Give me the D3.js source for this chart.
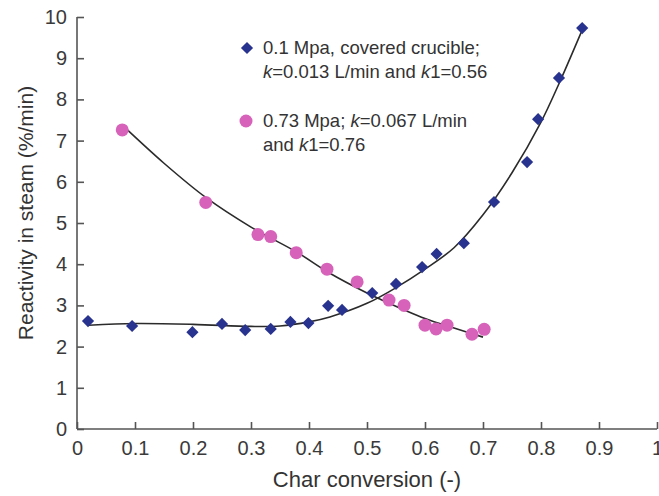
<!DOCTYPE html>
<html>
  <head>
    <meta charset="UTF-8">
    <title>Reactivity in steam</title>
    <script src="https://cdn.jsdelivr.net/npm/d3@7"></script>
    <style>
      body { margin: 0; background: #fff; }
      svg { font-family: "Liberation Sans", Arial, sans-serif; }
      .tick text { fill: #3a3a3a; }
    </style>
  </head>
  <body>
    <svg id="chart" width="659" height="496"></svg>
    <script>
      // 0.1 Mpa, covered crucible (blue diamonds)
      const blueX = [0.019, 0.095, 0.199, 0.25, 0.29, 0.334, 0.368, 0.399, 0.433, 0.457, 0.509, 0.55, 0.595, 0.62, 0.667, 0.719, 0.776, 0.795, 0.831, 0.871];
      const blueY = [2.62, 2.50, 2.35, 2.55, 2.40, 2.43, 2.60, 2.57, 2.99, 2.89, 3.30, 3.52, 3.93, 4.25, 4.51, 5.51, 6.48, 7.52, 8.52, 9.73];
      // fitted curve for blue series
      const blueFitX = [0.02, 0.1, 0.2, 0.3, 0.35, 0.4, 0.436, 0.5, 0.55, 0.6, 0.65, 0.7, 0.75, 0.8, 0.83, 0.87];
      const blueFitY = [2.52, 2.56, 2.54, 2.49, 2.50, 2.60, 2.72, 3.05, 3.43, 3.88, 4.40, 5.20, 6.22, 7.45, 8.35, 9.65];

      // 0.73 Mpa (pink circles)
      const pinkX = [0.078, 0.222, 0.312, 0.334, 0.378, 0.431, 0.483, 0.538, 0.564, 0.6, 0.619, 0.638, 0.681, 0.702];
      const pinkY = [7.26, 5.50, 4.72, 4.67, 4.28, 3.88, 3.57, 3.13, 3.00, 2.52, 2.43, 2.52, 2.30, 2.42];
      const pinkFitX = [0.08, 0.15, 0.222, 0.3, 0.378, 0.436, 0.5, 0.521, 0.6, 0.65, 0.7];
      const pinkFitY = [7.35, 6.45, 5.62, 4.90, 4.30, 3.78, 3.30, 3.16, 2.68, 2.45, 2.23];

      const xTicks = [0, 0.1, 0.2, 0.3, 0.4, 0.5, 0.6, 0.7, 0.8, 0.9, 1];
      const yTicks = [0, 1, 2, 3, 4, 5, 6, 7, 8, 9, 10];

      const blueColor = "#28338f";
      const pinkColor = "#d663b9";

      const svg = d3.select("#chart");
      const x = d3.scaleLinear().domain([0, 1]).range([77, 657]);
      const y = d3.scaleLinear().domain([0, 10]).range([429, 17]);

      const fmt = d => d === 0 || d === 1 ? String(d) : d3.format(".1f")(d);

      const xAxis = svg.append("g")
        .attr("transform", `translate(0,${y(0)})`)
        .call(d3.axisBottom(x).tickValues(xTicks).tickFormat(fmt).tickSizeInner(-7).tickSizeOuter(0).tickPadding(9));
      xAxis.selectAll("text").attr("font-size", 20).attr("dy", "0.85em");

      const yAxis = svg.append("g")
        .attr("transform", `translate(${x(0)},0)`)
        .call(d3.axisLeft(y).tickValues(yTicks).tickSizeInner(-7).tickSizeOuter(0).tickPadding(10));
      yAxis.selectAll("text").attr("font-size", 20);

      svg.selectAll(".domain, .tick line").attr("stroke", "#555").attr("stroke-width", 1.6);
      // the axes meet in a corner
      yAxis.select(".domain").attr("d", `M0,${y(10)}V${y(0)}`);
      xAxis.select(".domain").attr("d", `M${x(0)},0H${x(1)}`);

      svg.append("text")
        .attr("x", 367).attr("y", 487)
        .attr("text-anchor", "middle")
        .attr("font-size", 22).attr("fill", "#333")
        .text("Char conversion (-)");

      svg.append("text")
        .attr("transform", "translate(33,213) rotate(-90)")
        .attr("text-anchor", "middle")
        .attr("font-size", 21).attr("fill", "#333")
        .text("Reactivity in steam (%/min)");

      const line = d3.line().x(d => x(d[0])).y(d => y(d[1])).curve(d3.curveCatmullRom.alpha(0.5));

      svg.append("path")
        .datum(d3.zip(blueFitX, blueFitY))
        .attr("d", line)
        .attr("fill", "none").attr("stroke", "#2b2b2b").attr("stroke-width", 1.6);
      svg.append("path")
        .datum(d3.zip(pinkFitX, pinkFitY))
        .attr("d", line)
        .attr("fill", "none").attr("stroke", "#2b2b2b").attr("stroke-width", 1.6);

      const diamond = d3.symbol().type(d3.symbolDiamond2).size(95);

      svg.append("g").selectAll("circle")
        .data(d3.zip(pinkX, pinkY))
        .join("circle")
        .attr("cx", d => x(d[0])).attr("cy", d => y(d[1]))
        .attr("r", 6.5).attr("fill", pinkColor);

      svg.append("g").selectAll("path")
        .data(d3.zip(blueX, blueY))
        .join("path")
        .attr("transform", d => `translate(${x(d[0])},${y(d[1])})`)
        .attr("d", diamond).attr("fill", blueColor);

      // legend
      const legend = svg.append("g").attr("font-size", 18.5).attr("fill", "#333");
      legend.append("path").attr("transform", "translate(247,48)").attr("d", diamond).attr("fill", blueColor);
      legend.append("circle").attr("cx", 246).attr("cy", 121).attr("r", 6.5).attr("fill", pinkColor);

      const t1 = legend.append("text").attr("x", 263).attr("y", 54);
      t1.append("tspan").text("0.1 Mpa, covered crucible;");
      const t1b = legend.append("text").attr("x", 263).attr("y", 78);
      t1b.append("tspan").attr("font-style", "italic").text("k");
      t1b.append("tspan").text("=0.013 L/min and ");
      t1b.append("tspan").attr("font-style", "italic").text("k");
      t1b.append("tspan").text("1=0.56");

      const t2 = legend.append("text").attr("x", 263).attr("y", 127);
      t2.append("tspan").text("0.73 Mpa; ");
      t2.append("tspan").attr("font-style", "italic").text("k");
      t2.append("tspan").text("=0.067 L/min");
      const t2b = legend.append("text").attr("x", 263).attr("y", 151);
      t2b.append("tspan").text("and ");
      t2b.append("tspan").attr("font-style", "italic").text("k");
      t2b.append("tspan").text("1=0.76");
    </script>
  </body>
</html>
